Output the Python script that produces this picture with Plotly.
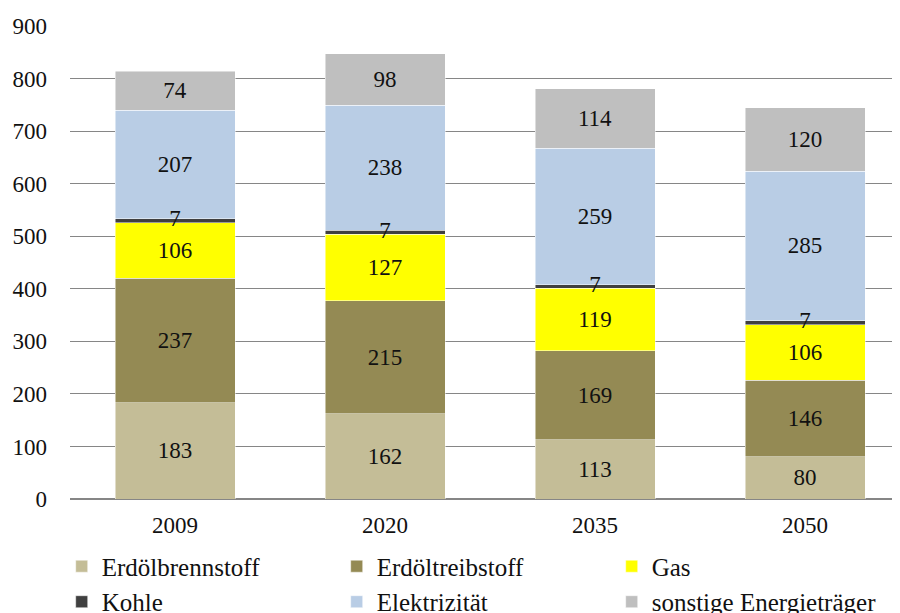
import plotly.graph_objects as go

years = ["2009", "2020", "2035", "2050"]
series_names = ["Erdölbrennstoff", "Erdöltreibstoff", "Gas", "Kohle", "Elektrizität", "sonstige Energieträger"]
erdoelbrennstoff = [183, 162, 113, 80]
erdoeltreibstoff = [237, 215, 169, 146]
gas = [106, 127, 119, 106]
kohle = [7, 7, 7, 7]
elektrizitaet = [207, 238, 259, 285]
sonstige = [74, 98, 114, 120]
colors = ["#C4BD97", "#948A54", "#FFFF00", "#404040", "#B9CDE5", "#BFBFBF"]
y_ticks = [0, 100, 200, 300, 400, 500, 600, 700, 800, 900]

series = [erdoelbrennstoff, erdoeltreibstoff, gas, kohle, elektrizitaet, sonstige]

FONT = "Liberation Serif, Times New Roman, serif"
fig = go.Figure()
base = [0] * len(years)
label_y = []
for name, vals, col in zip(series_names, series, colors):
    small = name == "Kohle"
    fig.add_trace(go.Bar(
        x=list(range(len(years))), y=vals, name=name,
        marker=dict(color=col, line=dict(color="rgba(255,255,255,0.6)", width=0.8)),
        text=None if small else [str(v) for v in vals],
        textposition="none" if small else "inside",
        insidetextanchor="middle",
        textangle=0,
        textfont=dict(family=FONT, size=23, color="#111111"),
        hoverinfo="name+y",
    ))
    if small:
        ys = [b + v / 2 for b, v in zip(base, vals)]
        label_y.append((ys, vals))
    base = [b + v for b, v in zip(base, vals)]

for ys, vals in label_y:
    fig.add_trace(go.Scatter(
        x=list(range(len(years))), y=ys, mode="text",
        text=[str(v) for v in vals], textposition="middle center",
        textfont=dict(family=FONT, size=23, color="#111111"),
        showlegend=False, hoverinfo="skip",
    ))

fig.update_layout(
    width=892, height=605,
    barmode="stack", bargap=0.4286,
    paper_bgcolor="white", plot_bgcolor="white",
    margin=dict(l=62, r=0, t=18, b=114.3, autoexpand=False),
    font=dict(family=FONT, size=23, color="#111111"),
    showlegend=True,
    legend=dict(
        orientation="h", x=-0.01, xanchor="left", y=-0.094, yanchor="top",
        entrywidth=230, entrywidthmode="pixels", itemwidth=30,
        font=dict(family=FONT, size=25, color="#111111"),
        traceorder="normal", tracegroupgap=0, itemclick=False,
    ),
    xaxis=dict(
        tickmode="array", tickvals=list(range(len(years))), ticktext=years,
        range=[-0.5, 3.452], showgrid=False, zeroline=False,
        showline=False, ticks="", tickfont=dict(family=FONT, size=23),
        ticklabelstandoff=10,
    ),
    yaxis=dict(
        range=[0, 900], tickmode="array", tickvals=y_ticks,
        showgrid=True, gridcolor="#868686", gridwidth=1,
        zeroline=True, zerolinecolor="#868686", zerolinewidth=2,
        showline=False, ticks="", tickfont=dict(family=FONT, size=23),
        ticklabelstandoff=22,
    ),
)

fig.write_html("out.html")
